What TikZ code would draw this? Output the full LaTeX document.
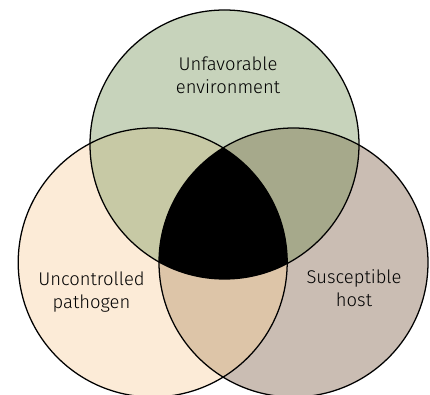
\documentclass[tikz,border=0pt]{standalone}
\usepackage{fontspec}
\setmainfont{Fira Sans}[UprightFont=* Light]
\definecolor{cTop}{HTML}{C7D3BB}
\definecolor{cLeft}{HTML}{FCEBD7}
\definecolor{cRight}{HTML}{CABDB3}
\definecolor{cTL}{HTML}{C7C9A5}
\definecolor{cTR}{HTML}{A6A98B}
\definecolor{cLR}{HTML}{DDC5A8}
\begin{document}
\begin{tikzpicture}[x=0.75pt,y=-0.75pt,
  lbl/.style={font=\fontsize{13.8}{17.3}\selectfont,align=center,text=black},
  ring/.style={draw=black,line width=0.95pt}]
\useasboundingbox (0,0) rectangle (430,395);
\def\r{134.5}
\coordinate (T) at (224.5,144.5);
\coordinate (L) at (152.7,262.5);
\coordinate (R) at (293.5,262.5);
\fill[cLeft] (L) circle[radius=\r];
\fill[cRight] (R) circle[radius=\r];
\fill[cTop] (T) circle[radius=\r];
\begin{scope}\clip (T) circle[radius=\r]; \fill[cTL] (L) circle[radius=\r];\end{scope}
\begin{scope}\clip (T) circle[radius=\r]; \fill[cTR] (R) circle[radius=\r];\end{scope}
\begin{scope}\clip (L) circle[radius=\r]; \fill[cLR] (R) circle[radius=\r];\end{scope}
\begin{scope}\clip (L) circle[radius=\r]; \clip (R) circle[radius=\r]; \fill[black] (T) circle[radius=\r];\end{scope}
\draw[ring] (T) circle[radius=\r];
\draw[ring] (L) circle[radius=\r];
\draw[ring] (R) circle[radius=\r];
\node[lbl] (env) at (228,75) {Unfavorable\\environment};
\node[lbl] (path) at (91.5,292) {Uncontrolled\\pathogen};
\node[lbl] (host) at (354,288) {Susceptible\\host};
\end{tikzpicture}
\end{document}
